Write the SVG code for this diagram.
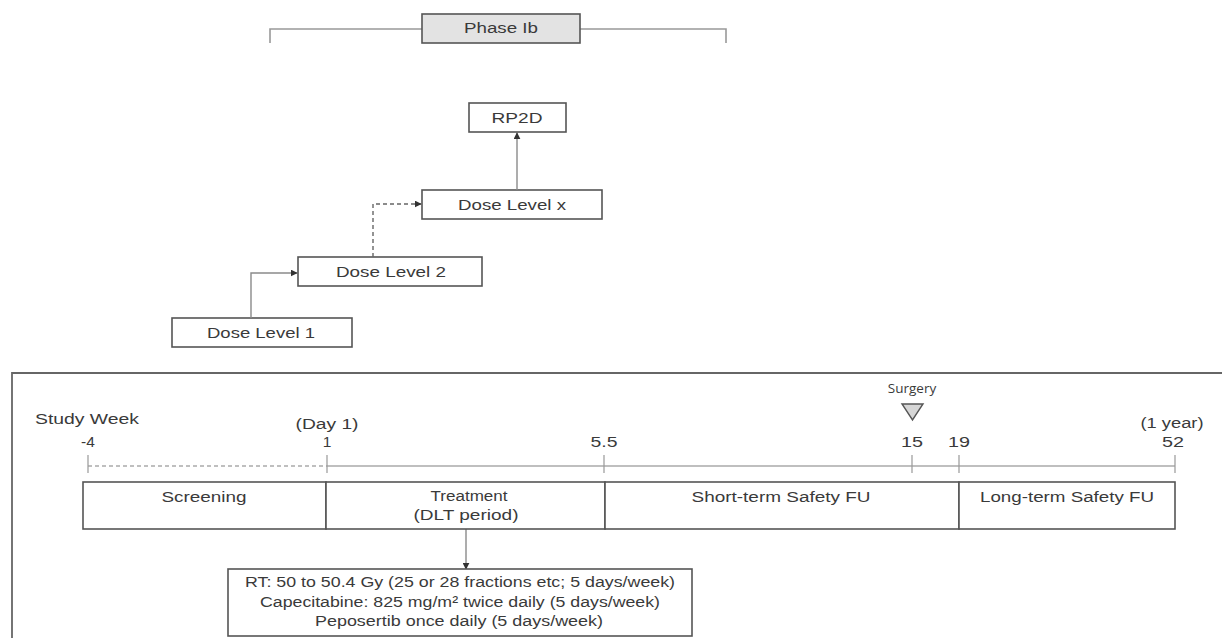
<svg xmlns="http://www.w3.org/2000/svg" width="1222" height="638" viewBox="0 0 1222 638">
<style>
text{font-family:"Liberation Sans",Arial,sans-serif;fill:#3a3a3a;font-size:15.5px}
.c{text-anchor:middle}
.box{fill:#fff;stroke:#555;stroke-width:1.6}
.conn{fill:none;stroke:#8a8a8a;stroke-width:1.4}
.dash{stroke-dasharray:4 3;stroke:#666}
.tl{stroke:#aaa;stroke-width:1.4;fill:none}
.tick{stroke:#999;stroke-width:1.2}
.brk{fill:none;stroke:#999;stroke-width:1.6}
</style>
<defs>
<marker id="ah" viewBox="0 0 10 10" refX="9" refY="5" markerWidth="7" markerHeight="7" markerUnits="userSpaceOnUse" orient="auto">
<path d="M0,0 L10,5 L0,10 z" fill="#333"/>
</marker>
</defs>
<rect width="1222" height="638" fill="#fff"/>

<g id="phase">
<path class="brk" d="M270,43 V29 H422 M580,29 H726 V43"/>
<rect x="422" y="14" width="158" height="29" fill="#e3e3e3" stroke="#555" stroke-width="1.6"/>
<text class="c" x="501" y="33" textLength="74" lengthAdjust="spacingAndGlyphs">Phase Ib</text>
</g>

<g id="rp2d">
<rect class="box" x="469" y="103" width="97" height="29"/>
<text class="c" x="517" y="123" textLength="51" lengthAdjust="spacingAndGlyphs">RP2D</text>
</g>
<g id="dlx">
<rect class="box" x="422" y="190" width="180" height="29"/>
<text class="c" x="512" y="210" textLength="108" lengthAdjust="spacingAndGlyphs">Dose Level x</text>
</g>
<g id="dl2">
<rect class="box" x="298" y="257" width="184" height="29"/>
<text class="c" x="391" y="277" textLength="110" lengthAdjust="spacingAndGlyphs">Dose Level 2</text>
</g>
<g id="dl1">
<rect class="box" x="172" y="318" width="180" height="29"/>
<text class="c" x="261" y="338" textLength="108" lengthAdjust="spacingAndGlyphs">Dose Level  1</text>
</g>

<g id="connectors">
<path class="conn" d="M251,318 V273 H297" marker-end="url(#ah)"/>
<path class="conn dash" d="M373,257 V204 H421" marker-end="url(#ah)"/>
<path class="conn" d="M517,190 V133" marker-end="url(#ah)"/>
<path class="conn" d="M466,529 V569" marker-end="url(#ah)"/>
</g>

<g id="frame">
<path d="M12,640 V373 H1224" fill="none" stroke="#666" stroke-width="1.8"/>
</g>

<g id="timeline">
<text x="35" y="424" textLength="104" lengthAdjust="spacingAndGlyphs">Study Week</text>
<text class="c" x="327" y="429" textLength="63" lengthAdjust="spacingAndGlyphs">(Day 1)</text>
<text class="c" x="1172" y="428" textLength="63" lengthAdjust="spacingAndGlyphs">(1 year)</text>
<text class="c" x="88" y="447">-4</text>
<text class="c" x="327" y="447">1</text>
<text class="c" x="604" y="447" textLength="27" lengthAdjust="spacingAndGlyphs">5.5</text>
<text class="c" x="912" y="447" textLength="22" lengthAdjust="spacingAndGlyphs">15</text>
<text class="c" x="959" y="447" textLength="22" lengthAdjust="spacingAndGlyphs">19</text>
<text class="c" x="1173" y="447" textLength="22" lengthAdjust="spacingAndGlyphs">52</text>
<path class="tl dash" d="M88,466 H327" stroke="#777"/>
<path class="tl" d="M327,466 H1175"/>
<path class="tick" d="M88,455 V473 M327,455 V473 M604,455 V473 M912,455 V473 M959,455 V473 M1175,455 V473"/>
</g>

<g id="surgery">
<text class="c" x="912" y="393" style="font-family:'Open Sans','Noto Sans',sans-serif;font-size:13.5px">Surgery</text>
<path d="M902,404 H923 L912.5,420 Z" fill="#d6d6d6" stroke="#555" stroke-width="1.4"/>
</g>

<g id="screening">
<rect class="box" x="83" y="482" width="243" height="47"/>
<text class="c" x="204" y="502" textLength="85" lengthAdjust="spacingAndGlyphs">Screening</text>
</g>
<g id="treatment">
<rect class="box" x="326" y="482" width="279" height="47"/>
<text class="c" x="469" y="501" textLength="77" lengthAdjust="spacingAndGlyphs">Treatment</text>
<text class="c" x="466" y="520" textLength="105" lengthAdjust="spacingAndGlyphs">(DLT period)</text>
</g>
<g id="short">
<rect class="box" x="605" y="482" width="354" height="47"/>
<text class="c" x="781" y="502" textLength="179" lengthAdjust="spacingAndGlyphs">Short-term Safety FU</text>
</g>
<g id="long">
<rect class="box" x="959" y="482" width="216" height="47"/>
<text class="c" x="1067" y="502" textLength="174" lengthAdjust="spacingAndGlyphs">Long-term Safety FU</text>
</g>

<g id="rt">
<rect class="box" x="228" y="569" width="464" height="67"/>
<text class="c" x="460" y="587" textLength="430" lengthAdjust="spacingAndGlyphs">RT: 50 to 50.4 Gy (25 or 28 fractions etc; 5 days/week)</text>
<text class="c" x="460" y="607" textLength="400" lengthAdjust="spacingAndGlyphs">Capecitabine: 825 mg/m² twice daily (5 days/week)</text>
<text class="c" x="459" y="626" textLength="288" lengthAdjust="spacingAndGlyphs">Peposertib once daily  (5 days/week)</text>
</g>
</svg>
